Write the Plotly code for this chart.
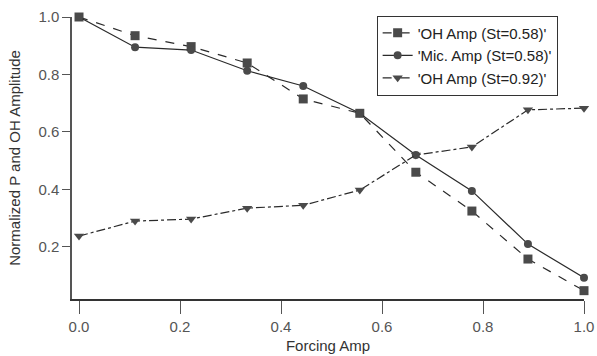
import plotly.graph_objects as go

forcing = [0.0, 0.111, 0.222, 0.333, 0.444, 0.556, 0.667, 0.778, 0.889, 1.0]
oh_058 = [1.0, 0.935, 0.897, 0.84, 0.715, 0.665, 0.46, 0.325, 0.158, 0.048]
mic_058 = [1.0, 0.895, 0.885, 0.813, 0.76, 0.665, 0.52, 0.395, 0.21, 0.093]
oh_092 = [0.238, 0.29, 0.297, 0.335, 0.345, 0.398, 0.52, 0.548, 0.677, 0.683]
names = ["'OH Amp (St=0.58)'", "'Mic. Amp (St=0.58)'", "'OH Amp (St=0.92)'"]

font = "Liberation Sans, Arial, sans-serif"
lc = "#2a2a2a"
mc = "#4a4a4a"

fig = go.Figure()
fig.add_trace(go.Scatter(x=forcing, y=oh_058, name=names[0], mode="lines+markers",
                         line=dict(color=lc, width=1.2, dash="dash"),
                         marker=dict(symbol="square", size=9, color=mc), cliponaxis=False))
fig.add_trace(go.Scatter(x=forcing, y=mic_058, name=names[1], mode="lines+markers",
                         line=dict(color=lc, width=1.2, dash="solid"),
                         marker=dict(symbol="circle", size=8, color=mc), cliponaxis=False))
fig.add_trace(go.Scatter(x=forcing, y=oh_092, name=names[2], mode="lines+markers",
                         line=dict(color=lc, width=1.2, dash="dashdot"),
                         marker=dict(symbol="triangle-down", size=9, color=mc), cliponaxis=False))

fig.update_layout(
    width=597, height=356,
    margin=dict(l=72, r=13, t=17, b=57),
    paper_bgcolor="white", plot_bgcolor="white",
    font=dict(family=font, size=14, color="#333"),
    showlegend=True,
    legend=dict(x=0.595, y=1.005, xanchor="left", yanchor="top",
                bordercolor="#333", borderwidth=1, bgcolor="white",
                font=dict(size=15, color="#222"), tracegroupgap=0,
                itemwidth=30),
    xaxis=dict(range=[-0.0139, 1.0], tickvals=[0, 0.2, 0.4, 0.6, 0.8, 1.0],
               ticktext=["0.0", "0.2", "0.4", "0.6", "0.8", "1.0"],
               showgrid=False, zeroline=False, showline=True, linecolor="#333", linewidth=1.5,
               ticks="outside", ticklen=13, tickcolor="#555", tickwidth=1,
               tickfont=dict(size=15, color="#555"), automargin=False,
               title=dict(text="Forcing Amp", font=dict(size=15, color="#333"), standoff=7)),
    yaxis=dict(range=[0.019, 1.0], tickvals=[0.2, 0.4, 0.6, 0.8, 1.0],
               ticktext=["0.2", "0.4", "0.6", "0.8", "1.0"],
               showgrid=False, zeroline=False, showline=True, linecolor="#555", linewidth=1.5,
               ticks="outside", ticklen=8, tickcolor="#555", tickwidth=1,
               tickfont=dict(size=15, color="#555"), automargin=False,
               title=dict(text="Normalized P and OH Amplitude", font=dict(size=15, color="#333"), standoff=14)),
)

fig.write_html("out.html")
